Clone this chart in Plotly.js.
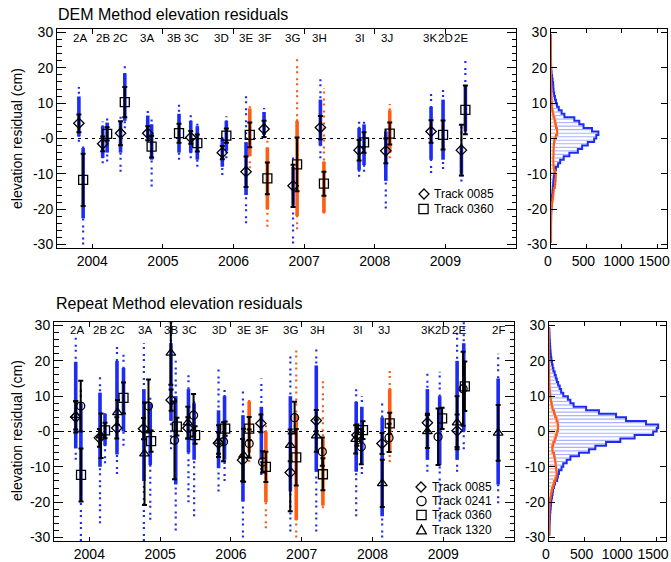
<!DOCTYPE html>
<html><head><meta charset="utf-8">
<script src="https://cdn.plot.ly/plotly-3.0.1.min.js"></script>
<style>html,body{margin:0;padding:0;background:#fff}#chart{width:671px;height:562px}</style>
</head><body><div id="chart"></div>
<script>
// ---------------- DATA ----------------
const yearTicks = [2004, 2005, 2006, 2007, 2008, 2009];
const yearLabels = ["2004", "2005", "2006", "2007", "2008", "2009"];
const countTicks = [0, 500, 1000, 1500];
const countLabels = ["0", "500", "1000", "1500"];

const campaigns = ["2A","2B","2C","3A","3B","3C","3D","3E","3F","3G","3H","3I","3J","3K","2D","2E","2F"];
const campaignYear = [2003.82,2004.15,2004.40,2004.78,2005.155,2005.41,2005.835,2006.18,2006.435,2006.84,2007.22,2007.79,2008.17,2008.785,2008.995,2009.225,2009.78];

// DEM method: per-track campaign means and standard deviations (cm)
const dem0085Year = [2003.81,2004.147,2004.40,2004.785,2005.394,2005.841,2006.177,2006.432,2006.843,2007.23,2007.778,2008.156,2008.797,2009.227];
const dem0085Mean = [4.3,-1.5,1.5,1.5,0.3,-4.0,-9.4,2.7,-13.4,3.1,-3.3,-3.5,2.0,-3.3];
const dem0085Err  = [2.5,2.1,3.4,2.0,1.8,1.9,4.3,2.3,6.0,3.3,2.9,3.5,3.2,7.2];
const dem0360Year = [2003.87,2004.21,2004.46,2004.84,2005.228,2005.487,2005.898,2006.23,2006.479,2006.90,2007.28,2007.848,2008.212,2008.967,2009.283];
const dem0360Mean = [-11.7,1.3,10.3,-2.3,1.5,-1.3,0.8,1.0,-11.3,-7.3,-12.8,-1.1,1.4,1.0,8.1];
const dem0360Err  = [7.4,1.9,4.3,3.1,2.7,2.4,2.0,3.5,4.5,7.6,3.4,2.9,3.1,4.1,6.9];

// DEM method: point clouds (full extent and dense core), orange = 1
const demCloudYear = [2003.81,2003.87,2004.147,2004.21,2004.40,2004.46,2004.785,2004.84,2005.228,2005.394,2005.487,2005.841,2005.898,2006.177,2006.23,2006.432,2006.479,2006.843,2006.90,2007.23,2007.28,2007.778,2007.848,2008.156,2008.212,2008.797,2008.967,2009.227,2009.283];
const demCloudMin  = [-0.9,-30,-7,-6.5,-9.4,2.9,-1,-13.6,-6,-5.6,-8,-10.3,-5.6,-24,-8.4,0.1,-25,-29.7,-25.7,-5.6,-21.2,-10.8,-9.4,-19.8,-5.6,-9.8,-8.6,-12.2,1];
const demCloudMax  = [14.6,-1.8,4.8,5.8,6.7,20.5,8.1,6,9.6,6.9,4.4,1,6.3,12.2,9.6,8.6,-0.4,-4.6,23,18,14.3,4.8,5.3,2.9,9.8,13.4,15,4,22.3];
const demCoreMin   = [0.6,-22.6,-5.5,-4,-4,5,0,-6,-4,-4,-6,-8,-3.5,-16,-5,1,-20,-19,-22,-2,-21,-9,-7.5,-12,-4,-6,-6,-10,2];
const demCoreMax   = [11.9,-2.7,3.5,4.5,5,18.5,6.5,4,7,5,3.5,0,5,-1,8.5,7.5,-2.5,-8,5,11,-6.5,3,4,2,8,9,11,-2,15];
const demCloudOrange = [0,0,0,0,0,0,0,0,0,0,0,0,0,0,1,0,1,0,1,0,1,0,0,0,1,0,0,0,0];

// Repeat method: per-track campaign means and standard deviations (cm)
const rep0085Year = [2003.807,2004.142,2004.387,2004.765,2005.155,2005.391,2005.825,2006.165,2006.424,2006.838,2007.206,2007.781,2008.135,2008.776,2009.196];
const rep0085Mean = [4.1,-1.8,1.0,0.8,8.9,1.0,-3.3,-8.1,2.3,-11.6,3.1,-1.0,-3.4,2.5,0.2];
const rep0085Err  = [4.4,2.5,3.0,3.0,3.0,3.0,3.0,6.0,2.5,11.0,3.0,3.0,3.0,2.5,4.6];
const rep0241Year = [2003.878,2004.835,2005.203,2005.472,2005.896,2006.258,2006.448,2006.90,2007.291,2007.842,2008.234,2008.927,2009.281];
const rep0241Mean = [7.2,7.2,-2.5,4.6,-2.9,-3.4,-8.6,3.9,-5.7,-4.3,-1.8,-1.5,12.1];
const rep0241Err  = [7.2,7.5,11.0,6.0,5.5,4.0,3.0,4.5,4.0,5.0,4.0,8.0,10.5];
const rep0360Year = [2003.882,2004.221,2004.482,2004.872,2005.236,2005.494,2005.919,2006.258,2006.494,2006.923,2007.30,2007.866,2008.244,2008.984,2009.305];
const rep0360Mean = [-12.3,0.3,9.5,-2.7,1.4,-1.0,0.8,0.8,-10.0,-7.3,-12.1,0.4,2.3,3.7,12.8];
const rep0360Err  = [7.5,2.2,4.4,3.0,2.5,2.5,2.0,3.3,4.3,8.0,4.5,2.5,3.0,3.0,7.0];
const rep1320Year = [2003.807,2004.165,2004.397,2004.779,2005.151,2005.391,2005.825,2006.179,2006.838,2007.206,2007.763,2008.139,2008.776,2009.196,2009.776];
const rep1320Mean = [4.6,-1.2,5.4,-6.3,22.2,2.5,-2.7,-6.7,-3.9,-1.2,-2.2,-14.7,0.0,2.5,-0.4];
const rep1320Err  = [4.0,6.3,3.5,14.5,9.0,4.5,4.5,7.5,4.5,4.5,4.0,6.7,4.7,7.5,7.9];

// Repeat method: point clouds
const repCloudYear = [2003.807,2003.88,2004.15,2004.221,2004.39,2004.482,2004.77,2004.86,2005.153,2005.22,2005.40,2005.48,2005.825,2005.91,2006.17,2006.258,2006.43,2006.494,2006.84,2006.923,2007.206,2007.30,2007.77,2007.85,2008.137,2008.244,2008.776,2008.95,2009.196,2009.29,2009.776];
const repCloudMin  = [-8,-31,-26,-9,-12,-4,-31,-25,-5,-28,-20,-24,-17,-14,-30,-8.6,-12.3,-27.4,-28.3,-30,-28.3,-21.7,-24,-12,-30,-8.6,-11.4,-25.5,-11.4,-5,-20.3];
const repCloudMax  = [27,12,16,6,24,22,25,10,32,20,17,10,18,12,12,9.3,15,1.8,21.5,23.9,23.4,15,12.1,10,8.8,18.3,16.4,16.9,29,31,22];
const repCoreMin   = [-4.8,-20,-10,-4,-6.5,0,-14,-9.5,3,-15,-6,-8,-10.4,-8,-19.8,-6,-8,-20,-17,-25,-11.4,-21,-11.4,-9,-24,-6,-8,-9.5,-8,0,-15];
const repCoreMax   = [19.7,8,11,5,20,18,12,8,25,10,12,8,6,10,4.6,8.5,7,0,10,5,18.7,-2,8.4,7,4,12,12,10,20,25,15];
const repCloudOrange = [0,0,0,0,0,0,0,0,0,0,0,0,0,0,0,1,0,1,0,1,0,1,0,0,0,1,0,0,0,0,0];

// Histograms: 1 cm bins, centres from -29.5 to 29.5
const binCentre = [-29.5,-28.5,-27.5,-26.5,-25.5,-24.5,-23.5,-22.5,-21.5,-20.5,-19.5,-18.5,-17.5,-16.5,-15.5,-14.5,-13.5,-12.5,-11.5,-10.5,-9.5,-8.5,-7.5,-6.5,-5.5,-4.5,-3.5,-2.5,-1.5,-0.5,0.5,1.5,2.5,3.5,4.5,5.5,6.5,7.5,8.5,9.5,10.5,11.5,12.5,13.5,14.5,15.5,16.5,17.5,18.5,19.5,20.5,21.5,22.5,23.5,24.5,25.5,26.5,27.5,28.5,29.5];
const demHistBlue   = [1,1,1,1,1,1,2,2,2,4,6,9,12,15,20,25,30,33,38,45,55,70,100,130,180,260,380,440,520,610,640,670,580,460,400,330,190,150,110,85,70,56,45,36,33,30,22,15,8,4,2,1,0,0,0,0,0,0,0,0];
const demHistOrange = [0,0,0,0,0,0,0,1,2,4,8,14,22,30,35,40,55,62,66,68,60,42,35,33,33,35,36,38,42,50,70,88,85,70,60,50,35,25,16,12,9,7,5,4,3,2,2,1,1,0,0,0,0,0,0,0,0,0,0,0];
const repHistBlue   = [5,6,7,9,11,13,15,19,24,28,33,42,50,57,70,85,114,125,140,176,200,248,300,420,560,650,800,1000,1200,1460,1510,1530,1360,1080,940,700,520,345,300,265,200,170,150,128,110,95,80,62,52,42,33,26,22,18,15,12,9,7,5,3];
const repHistOrange = [2,2,2,3,3,3,4,5,7,10,14,24,32,43,58,72,90,105,108,100,95,88,80,70,50,45,60,80,95,110,125,128,120,105,85,70,50,40,30,22,18,12,8,6,5,3,3,2,2,2,1,1,1,1,1,0,0,0,0,0];

// ---------------- STYLE ----------------
const W = 671, H = 562;
const FONT = "Liberation Sans, Arial, Helvetica, sans-serif";
const BLUE = "rgb(28,44,245)";
const ORANGE = "rgb(255,92,18)";
const px = v => v / W;
const py = v => 1 - v / H;
const MINUS = "\u2212";
const residAlias = {};
residAlias[MINUS + "30"] = "-30"; residAlias[MINUS + "20"] = "-20"; residAlias[MINUS + "10"] = "-10";
const residAliasZero = Object.assign({"0": "-0"}, residAlias);

function segs(xs, lo, hi, flags, want) {
  const x = [], y = [];
  for (let i = 0; i < xs.length; i++) {
    if (flags[i] !== want) continue;
    x.push(xs[i], xs[i], null);
    y.push(lo[i], hi[i], null);
  }
  return {x, y};
}

function cloudTraces(xs, mn, mx, cmn, cmx, flags, xa, ya) {
  const out = [];
  [[0, BLUE], [1, ORANGE]].forEach(([f, col]) => {
    const s = segs(xs, mn, mx, flags, f);
    out.push({type: "scatter", mode: "lines", x: s.x, y: s.y, xaxis: xa, yaxis: ya,
      line: {color: col, width: 2.2, dash: "2px,3px,2px,5px"}, hoverinfo: "skip", showlegend: false});
    const c = segs(xs, cmn, cmx, flags, f);
    out.push({type: "scatter", mode: "lines", x: c.x, y: c.y, xaxis: xa, yaxis: ya,
      line: {color: col, width: 3.6}, hoverinfo: "skip", showlegend: false});
  });
  return out;
}

function trackTrace(xs, ys, err, symbol, size, xa, ya) {
  return {type: "scatter", mode: "markers", x: xs, y: ys, xaxis: xa, yaxis: ya,
    marker: {symbol: symbol, size: size, color: "black", line: {color: "black", width: 1.3}},
    error_y: {type: "data", array: err, visible: true, color: "black", thickness: 2, width: 2.5},
    showlegend: false, hoverinfo: "skip"};
}

function histTraces(bl, or, xa, ya) {
  return [
    {type: "bar", orientation: "h", y: binCentre, x: bl, width: 0.32, xaxis: xa, yaxis: ya,
      marker: {color: "rgb(170,178,255)", line: {width: 0}}, showlegend: false, hoverinfo: "skip"},
    {type: "bar", orientation: "h", y: binCentre, x: or, width: 0.32, xaxis: xa, yaxis: ya,
      marker: {color: "rgb(255,180,150)", line: {width: 0}}, showlegend: false, hoverinfo: "skip"},
    {type: "scatter", mode: "lines", y: binCentre, x: bl, xaxis: xa, yaxis: ya,
      line: {color: BLUE, width: 2, shape: "vhv"}, showlegend: false, hoverinfo: "skip"},
    {type: "scatter", mode: "lines", y: binCentre, x: or, xaxis: xa, yaxis: ya,
      line: {color: ORANGE, width: 2, shape: "vhv"}, showlegend: false, hoverinfo: "skip"}
  ];
}

const traces = [].concat(
  cloudTraces(demCloudYear, demCloudMin, demCloudMax, demCoreMin, demCoreMax, demCloudOrange, "x", "y"),
  [trackTrace(dem0085Year, dem0085Mean, dem0085Err, "diamond-open", 8, "x", "y"),
   trackTrace(dem0360Year, dem0360Mean, dem0360Err, "square-open", 9, "x", "y")],
  histTraces(demHistBlue, demHistOrange, "x2", "y2"),
  cloudTraces(repCloudYear, repCloudMin, repCloudMax, repCoreMin, repCoreMax, repCloudOrange, "x3", "y3"),
  [trackTrace(rep0085Year, rep0085Mean, rep0085Err, "diamond-open", 8, "x3", "y3"),
   trackTrace(rep0241Year, rep0241Mean, rep0241Err, "circle-open", 8, "x3", "y3"),
   trackTrace(rep0360Year, rep0360Mean, rep0360Err, "square-open", 9, "x3", "y3"),
   trackTrace(rep1320Year, rep1320Mean, rep1320Err, "triangle-up-open", 8.5, "x3", "y3")],
  histTraces(repHistBlue, repHistOrange, "x4", "y4")
);

const baseAx = {showgrid: false, zeroline: false, showline: true, linecolor: "black", linewidth: 1,
  mirror: "ticks", ticks: "inside", tickcolor: "black", tickwidth: 1,
  tickfont: {family: FONT, size: 14, color: "black"}, fixedrange: true};

function timeAxis(dom, anchor) {
  return Object.assign({}, baseAx, {domain: dom, anchor: anchor, range: [2003.5, 2010.0],
    tickmode: "array", tickvals: yearTicks, ticktext: yearLabels, ticklen: 4.5});
}
function residAxis(dom, anchor) {
  return Object.assign({}, baseAx, {domain: dom, anchor: anchor, range: [-31, 31],
    tickmode: "linear", tick0: 0, dtick: 10, ticklen: 9, labelalias: residAliasZero,
    minor: {ticks: "inside", ticklen: 4.5, tick0: 0, dtick: 2, tickcolor: "black", tickwidth: 1}});
}
function countAxis(dom, anchor) {
  return Object.assign({}, baseAx, {domain: dom, anchor: anchor, range: [0, 1640],
    tickmode: "array", tickvals: countTicks, ticktext: countLabels, ticklen: 4,
    ticklabeloverflow: "allow", ticklabelshift: -3});
}
function histResidAxis(dom, anchor) {
  return Object.assign({}, baseAx, {domain: dom, anchor: anchor, range: [-31, 31],
    tickmode: "linear", tick0: 0, dtick: 10, ticklen: 6, labelalias: residAlias});
}

const topY = [py(248), py(29)];
const botY = [py(541), py(322)];

const annotations = [];
function txt(t, x, y, opts) {
  annotations.push(Object.assign({text: t, x: x, y: y, xref: "paper", yref: "paper", showarrow: false,
    font: {family: FONT, size: 12, color: "black"}, xanchor: "left", yanchor: "middle"}, opts || {}));
}
txt("DEM Method elevation residuals", px(56), py(15), {font: {family: FONT, size: 16, color: "black"}});
txt("Repeat Method elevation residuals", px(54), py(303), {font: {family: FONT, size: 16, color: "black"}});
txt("elevation residual (cm)", px(17), py(139), {textangle: -90, xanchor: "center", font: {family: FONT, size: 14, color: "black"}});
txt("elevation residual (cm)", px(17), py(431), {textangle: -90, xanchor: "center", font: {family: FONT, size: 14, color: "black"}});
campaigns.forEach((c, i) => {
  if (c !== "2F") annotations.push({text: c, x: campaignYear[i], xref: "x", y: py(38), yref: "paper",
    showarrow: false, xanchor: "center", yanchor: "middle", font: {family: FONT, size: 11.5, color: "black"}});
  annotations.push({text: c, x: campaignYear[i], xref: "x3", y: py(330), yref: "paper",
    showarrow: false, xanchor: "center", yanchor: "middle", font: {family: FONT, size: 11.5, color: "black"}});
});
txt("Track 0085", px(432), py(194));
txt("Track 0360", px(432), py(209));
txt("Track 0085", px(430), py(487));
txt("Track 0241", px(430), py(501));
txt("Track 0360", px(430), py(515));
txt("Track 1320", px(430), py(529.5));

const shapes = [
  {type: "line", xref: "x domain", yref: "y", x0: 0, x1: 1, y0: 0, y1: 0, layer: "below",
    line: {color: "black", width: 1.2, dash: "3px,4px"}},
  {type: "line", xref: "x3 domain", yref: "y3", x0: 0, x1: 1, y0: 0, y1: 0, layer: "below",
    line: {color: "black", width: 1.2, dash: "3px,4px"}}
];
const gl = {color: "black", width: 1.3};
function pathShape(pts) {
  const d = pts.map((p, i) => (i ? "L" : "M") + px(p[0]).toFixed(5) + "," + py(p[1]).toFixed(5)).join(" ") + " Z";
  shapes.push({type: "path", xref: "paper", yref: "paper", path: d, line: gl});
}
function diamondGlyph(cx, cy, r) { pathShape([[cx, cy - r], [cx + r, cy], [cx, cy + r], [cx - r, cy]]); }
function squareGlyph(cx, cy, r) { pathShape([[cx - r, cy - r], [cx + r, cy - r], [cx + r, cy + r], [cx - r, cy + r]]); }
function triGlyph(cx, cy, r) { pathShape([[cx - r, cy + r * 0.9], [cx + r, cy + r * 0.9], [cx, cy - r * 0.9]]); }
function circGlyph(cx, cy, r) {
  shapes.push({type: "circle", xref: "paper", yref: "paper", x0: px(cx - r), x1: px(cx + r), y0: py(cy + r), y1: py(cy - r), line: gl});
}
diamondGlyph(424, 194, 5);
squareGlyph(423.5, 209, 4.6);
diamondGlyph(421, 487, 5);
circGlyph(421.5, 501, 4.6);
squareGlyph(421.5, 515, 4.6);
triGlyph(421.5, 529.5, 4.8);

const layout = {
  width: W, height: H, margin: {l: 0, r: 0, t: 0, b: 0}, paper_bgcolor: "white", plot_bgcolor: "white",
  showlegend: false, barmode: "overlay", font: {family: FONT, size: 14, color: "black"},
  xaxis: timeAxis([px(57), px(516)], "y"),
  yaxis: residAxis(topY, "x"),
  xaxis2: countAxis([px(551), px(667)], "y2"),
  yaxis2: histResidAxis(topY, "x2"),
  xaxis3: timeAxis([px(54), px(514)], "y3"),
  yaxis3: residAxis(botY, "x3"),
  xaxis4: countAxis([px(549), px(666)], "y4"),
  yaxis4: histResidAxis(botY, "x4"),
  annotations: annotations, shapes: shapes
};

Plotly.newPlot("chart", traces, layout, {displayModeBar: false, staticPlot: true});
</script></body></html>
